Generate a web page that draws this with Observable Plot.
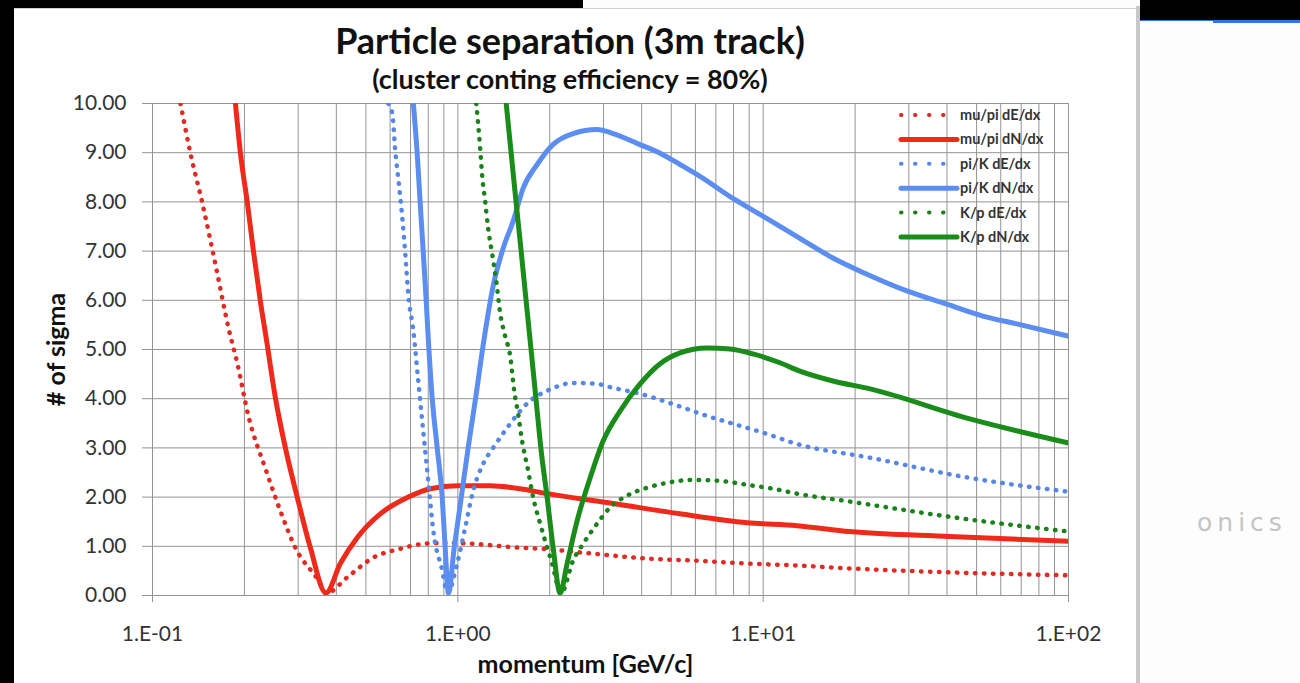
<!DOCTYPE html>
<html>
<head>
<meta charset="utf-8">
<script src="https://cdn.jsdelivr.net/npm/d3@7"></script>
<script src="https://cdn.jsdelivr.net/npm/@observablehq/plot@0.6"></script>
<style>
  html, body { margin: 0; padding: 0; width: 1300px; height: 683px; overflow: hidden; background: #fdfdfd; font-family: Lato, "Open Sans", sans-serif; }
  #leftbar { position: absolute; left: 0; top: 0; width: 14px; height: 683px; background: #000; }
  #topbar { position: absolute; left: 0; top: 0; width: 583px; height: 8px; background: #000; }
  #rightblack { position: absolute; left: 1140px; top: 0; width: 160px; height: 20px; background: #000; }
  #blueline1 { position: absolute; left: 1140px; top: 20px; width: 160px; height: 1px; background: #3a6ee8; }
  #blueline2 { position: absolute; left: 1213px; top: 20px; width: 87px; height: 3px; background: #3a6ee8; }
  #divider { position: absolute; left: 1136px; top: 6px; width: 4px; height: 677px; background: #c8c8c8; }
  #panel { position: absolute; left: 14px; top: 8px; width: 1122px; height: 675px; background: #fff; border-top: 1px solid #d0d0d0; }
  #title { position: absolute; left: 0; width: 1122px; top: 10px; text-align: center; font-weight: 700; font-size: 36px; line-height: 42px; color: #111; padding-right: 10px; box-sizing: border-box; }
  #subtitle { position: absolute; left: 0; width: 1122px; top: 55px; text-align: center; font-weight: 700; font-size: 27px; line-height: 30px; color: #111; padding-right: 10px; box-sizing: border-box; }
  #chart { position: absolute; left: 0; top: 84px; }
  #legend { position: absolute; left: 882px; top: 88px; }
  #sidetext { position: absolute; left: 1197px; top: 508px; font-family: "DejaVu Sans", sans-serif; font-size: 25px; letter-spacing: 5px; color: #c4c4c4; white-space: nowrap; }
</style>
</head>
<body>
<div id="leftbar"></div>
<div id="topbar"></div>
<div id="rightblack"></div>
<div id="blueline1"></div>
<div id="blueline2"></div>
<div id="sidetext">onics</div>
<div id="panel">
  <div id="title">Particle separation (3m track)</div>
  <div id="subtitle">(cluster conting efficiency = 80%)</div>
  <div id="chart"></div>
  <div id="legend"></div>
</div>
<div id="divider"></div>
<script>
// ---- Data (momentum [GeV/c], # of sigma) ----
const muPiDEdx = [
  [0.1235, 10.0], [0.1331, 8.99], [0.1457, 7.97], [0.1632, 6.53], [0.1773, 5.44],
  [0.1897, 4.71], [0.2061, 3.65], [0.2343, 2.58], [0.2623, 1.72], [0.2937, 0.97],
  [0.3467, 0.34], [0.372, 0.05], [0.4346, 0.37], [0.5287, 0.77], [0.648, 0.95],
  [0.770, 1.05], [0.923, 1.07], [1.123, 1.05], [1.600, 0.97], [1.861, 0.95],
  [2.774, 0.85], [4.17, 0.75], [5.89, 0.71], [8.85, 0.65], [12.9, 0.61],
  [19.2, 0.55], [40.8, 0.47], [100, 0.41]
];
const muPiDNdx = [
  [0.1869, 10.0], [0.1941, 8.99], [0.2046, 7.97], [0.2141, 7.0], [0.2256, 5.98],
  [0.236, 5.21], [0.2526, 4.02], [0.2724, 3.0], [0.2981, 1.99], [0.3289, 0.97],
  [0.370, 0.05], [0.4122, 0.65], [0.4687, 1.18], [0.5573, 1.66], [0.6832, 1.99],
  [0.8121, 2.17], [0.995, 2.23], [1.276, 2.23], [1.600, 2.17], [1.961, 2.07],
  [3.225, 1.87], [5.342, 1.66], [8.85, 1.48], [12.9, 1.42], [19.2, 1.30],
  [40.8, 1.20], [100, 1.10]
];
const piKDEdx = [
  [0.592, 10.0], [0.610, 9.80], [0.624, 9.03], [0.638, 8.48], [0.658, 7.67],
  [0.673, 6.94], [0.688, 6.13], [0.715, 5.38], [0.742, 4.36], [0.770, 3.35],
  [0.800, 2.33], [0.831, 1.32], [0.889, 0.51], [0.925, 0.05], [0.995, 0.65],
  [1.057, 1.38], [1.123, 2.13], [1.211, 2.68], [1.305, 3.0], [1.451, 3.41],
  [1.600, 3.75], [1.726, 3.96], [1.961, 4.16], [2.385, 4.32], [2.858, 4.30],
  [3.225, 4.22], [3.953, 4.10], [5.068, 3.89], [6.549, 3.65], [8.397, 3.45],
  [9.98, 3.31], [12.9, 3.08], [22.4, 2.80], [47.5, 2.39], [100, 2.11]
];
const piKDNdx = [
  [0.715, 10.0], [0.736, 8.99], [0.753, 7.97], [0.770, 7.0], [0.788, 5.98],
  [0.800, 5.23], [0.824, 4.02], [0.856, 3.0], [0.889, 1.99], [0.909, 0.97],
  [0.932, 0.05], [0.973, 0.97], [1.026, 1.99], [1.081, 3.0], [1.144, 4.02],
  [1.216, 5.17], [1.305, 6.29], [1.408, 7.06], [1.518, 7.61], [1.637, 8.28],
  [1.819, 8.76], [2.052, 9.17], [2.385, 9.39], [2.858, 9.47], [3.225, 9.39],
  [3.865, 9.19], [4.597, 8.99], [5.342, 8.76], [6.21, 8.52], [7.965, 8.07],
  [9.98, 7.71], [13.19, 7.26], [16.92, 6.86], [21.87, 6.53], [29.55, 6.19],
  [39.95, 5.92], [52.4, 5.68], [67.7, 5.52], [100, 5.27]
];
const kPDEdx = [
  [1.149, 10.0], [1.166, 9.57], [1.184, 9.07], [1.202, 8.52], [1.229, 8.01],
  [1.257, 7.46], [1.296, 6.94], [1.336, 6.39], [1.376, 5.74], [1.429, 5.27],
  [1.484, 4.87], [1.530, 4.16], [1.576, 3.69], [1.624, 3.14], [1.700, 2.53],
  [1.765, 1.99], [1.861, 1.46], [1.961, 0.97], [2.037, 0.65], [2.131, 0.16],
  [2.180, 0.05], [2.385, 0.71], [2.572, 1.05], [2.858, 1.46], [3.153, 1.79],
  [3.584, 2.03], [4.167, 2.19], [4.844, 2.29], [5.892, 2.35], [7.224, 2.33],
  [8.85, 2.25], [10.77, 2.17], [12.9, 2.07], [19.2, 1.91], [40.8, 1.60], [100, 1.30]
];
const kPDNdx = [
  [1.440, 10.0], [1.495, 8.99], [1.553, 7.97], [1.612, 7.0], [1.674, 5.98],
  [1.739, 4.97], [1.805, 3.96], [1.875, 2.94], [1.961, 1.99], [2.052, 0.97],
  [2.163, 0.05], [2.280, 0.65], [2.459, 1.52], [2.712, 2.39], [2.991, 3.14],
  [3.400, 3.75], [3.953, 4.30], [4.597, 4.71], [5.342, 4.93], [6.549, 5.03],
  [7.788, 5.01], [9.26, 4.91], [11.35, 4.73], [13.19, 4.56], [16.92, 4.36],
  [22.4, 4.20], [47.5, 3.59], [100, 3.10]
];

const seriesNames = ["mu/pi dE/dx", "mu/pi dN/dx", "pi/K dE/dx", "pi/K dN/dx", "K/p dE/dx", "K/p dN/dx"];
const seriesData = [muPiDEdx, muPiDNdx, piKDEdx, piKDNdx, kPDEdx, kPDNdx];
const seriesColors = ["#e02a22", "#ef2a1a", "#5587e6", "#5b8ef0", "#1a821a", "#1a8c1a"];
const seriesDotted = [true, false, true, false, true, false];

const xTicks = [0.1, 1, 10, 100];
const xTickLabels = ["1.E-01", "1.E+00", "1.E+01", "1.E+02"];
const yTicks = [0, 1, 2, 3, 4, 5, 6, 7, 8, 9, 10];
const xLabel = "momentum [GeV/c]";
const yLabel = "# of sigma";

// minor vertical grid (1..9 per decade)
const minorGrid = [];
[0.1, 1, 10].forEach(d => { for (let k = 1; k <= 9; k++) minorGrid.push(+(k * d).toPrecision(3)); });
minorGrid.push(100);

const rows = seriesData.flatMap((arr, i) => arr.map(([p, s]) => ({ p, s, series: seriesNames[i] })));

const gridColor = "#939393";
const lineMarks = seriesNames.map((name, i) =>
  Plot.line(rows.filter(r => r.series === name), {
    x: "p", y: "s",
    curve: "monotone-x",
    stroke: seriesColors[i],
    strokeWidth: seriesDotted[i] ? 4.5 : 5,
    strokeDasharray: seriesDotted[i] ? "0.5 8.5" : null,
    strokeLinecap: "round",
    strokeLinejoin: "round",
    clip: true
  })
);

const chart = Plot.plot({
  width: 1122,
  height: 590,
  marginLeft: 138,
  marginRight: 68,
  marginTop: 10,
  marginBottom: 88,
  style: { fontFamily: "Lato, 'Open Sans', sans-serif", background: "transparent", overflow: "visible" },
  x: { type: "log", domain: [0.1, 100] },
  y: { domain: [0, 10] },
  marks: [
    Plot.ruleX(minorGrid, { stroke: gridColor, strokeWidth: 1 }),
    Plot.ruleY(yTicks, { stroke: gridColor, strokeWidth: 1 }),
    Plot.axisX({ ticks: xTicks, tickFormat: d => xTickLabels[xTicks.indexOf(d)], tickSize: 7, tickPadding: 24, fontSize: 21, stroke: gridColor, fill: "#333", label: null }),
    Plot.axisY({ ticks: yTicks, tickFormat: d => d.toFixed(2), tickSize: 10, tickPadding: 16, fontSize: 21, stroke: gridColor, fill: "#333", label: null }),
    Plot.text([xLabel], { frameAnchor: "bottom", textAnchor: "middle", dx: -25, dy: 77, text: d => d, fontSize: 25, fontWeight: "bold", fill: "#111" }),
    Plot.text([yLabel], { frameAnchor: "left", textAnchor: "middle", lineAnchor: "middle", dx: -96, dy: 0, rotate: -90, text: d => d, fontSize: 25, fontWeight: "bold", fill: "#111" }),
    ...lineMarks
  ]
});
document.getElementById("chart").appendChild(chart);

// legend (HTML overlay)
const NS = "http://www.w3.org/2000/svg";
const leg = document.createElementNS(NS, "svg");
leg.setAttribute("width", 180);
leg.setAttribute("height", 150);
seriesNames.forEach((name, i) => {
  const y = 18 + i * 24.4;
  const ln = document.createElementNS(NS, "line");
  ln.setAttribute("x1", 5); ln.setAttribute("x2", 61);
  ln.setAttribute("y1", y); ln.setAttribute("y2", y);
  ln.setAttribute("stroke", seriesColors[i]);
  ln.setAttribute("stroke-width", seriesDotted[i] ? 4 : 5);
  ln.setAttribute("stroke-linecap", "round");
  if (seriesDotted[i]) ln.setAttribute("stroke-dasharray", "0.5 13.5");
  leg.appendChild(ln);
  const t = document.createElementNS(NS, "text");
  t.setAttribute("x", 64); t.setAttribute("y", y);
  t.setAttribute("dy", "0.35em");
  t.setAttribute("font-size", 14.5);
  t.setAttribute("font-weight", "bold");
  t.setAttribute("font-family", "Lato, sans-serif");
  t.setAttribute("fill", "#333");
  t.textContent = name;
  leg.appendChild(t);
});
document.getElementById("legend").appendChild(leg);
</script>
</body>
</html>
